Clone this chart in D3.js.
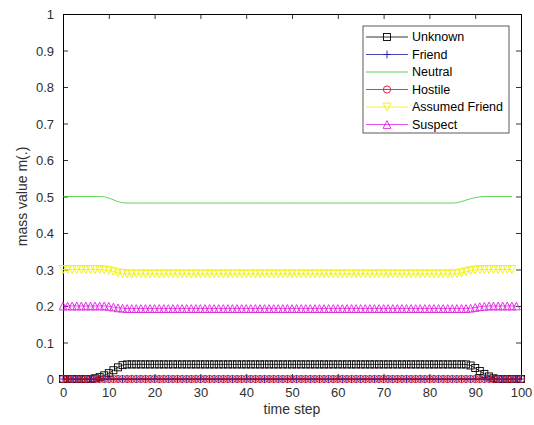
<!DOCTYPE html>
<html><head><meta charset="utf-8">
<script src="https://cdn.jsdelivr.net/npm/d3@7"></script>
<style>
html,body{margin:0;padding:0;background:#fff;}
svg{display:block;font-family:"Liberation Sans",Arial,sans-serif;}
</style></head>
<body><svg id="c" width="534" height="425"></svg>
<script>
const timeSteps = d3.range(0, 101);
const xTicks = [0,10,20,30,40,50,60,70,80,90,100];
const yTicks = [0,0.1,0.2,0.3,0.4,0.5,0.6,0.7,0.8,0.9,1];
const seriesNames = ["Unknown","Friend","Neutral","Hostile","Assumed Friend","Suspect"];

const unknown = [0,0,0,0,0,0,0,0.002,0.005,0.010,0.016,0.024,0.032,0.038,
0.040,0.040,0.040,0.040,0.040,0.040,0.040,0.040,0.040,0.040,0.040,0.040,0.040,0.040,0.040,0.040,
0.040,0.040,0.040,0.040,0.040,0.040,0.040,0.040,0.040,0.040,0.040,0.040,0.040,0.040,0.040,0.040,
0.040,0.040,0.040,0.040,0.040,0.040,0.040,0.040,0.040,0.040,0.040,0.040,0.040,0.040,0.040,0.040,
0.040,0.040,0.040,0.040,0.040,0.040,0.040,0.040,0.040,0.040,0.040,0.040,0.040,0.040,0.040,0.040,
0.040,0.040,0.040,0.040,0.040,0.040,0.040,0.040,0.040,0.040,0.040,0.037,0.030,0.022,0.014,0.007,0.002,
0,0,0,0,0,0];
const friend = [0,0,0,0,0,0,0,0,0,0,0,0,0,0,0,0,0,0,0,0,0,0,0,0,0,0,0,0,0,0,0,0,0,0,0,0,0,0,0,0,0,0,0,0,0,0,0,0,0,0,
0,0,0,0,0,0,0,0,0,0,0,0,0,0,0,0,0,0,0,0,0,0,0,0,0,0,0,0,0,0,0,0,0,0,0,0,0,0,0,0,0,0,0,0,0,0,0,0,0,0,0];
const neutral = [0.500,0.500,0.500,0.500,0.500,0.500,0.500,0.500,0.500,0.499,0.496,0.491,0.486,0.483,
0.482,0.482,0.482,0.482,0.482,0.482,0.482,0.482,0.482,0.482,0.482,0.482,0.482,0.482,0.482,0.482,
0.482,0.482,0.482,0.482,0.482,0.482,0.482,0.482,0.482,0.482,0.482,0.482,0.482,0.482,0.482,0.482,
0.482,0.482,0.482,0.482,0.482,0.482,0.482,0.482,0.482,0.482,0.482,0.482,0.482,0.482,0.482,0.482,
0.482,0.482,0.482,0.482,0.482,0.482,0.482,0.482,0.482,0.482,0.482,0.482,0.482,0.482,0.482,0.482,
0.482,0.482,0.482,0.482,0.482,0.482,0.482,0.482,0.483,0.486,0.490,0.494,0.497,0.499,
0.500,0.500,0.500,0.500,0.500,0.500,0.500];
const hostile = [0,0,0,0,0,0,0,0,0,0,0,0,0,0,0,0,0,0,0,0,0,0,0,0,0,0,0,0,0,0,0,0,0,0,0,0,0,0,0,0,0,0,0,0,0,0,0,0,0,0,
0,0,0,0,0,0,0,0,0,0,0,0,0,0,0,0,0,0,0,0,0,0,0,0,0,0,0,0,0,0,0,0,0,0,0,0,0,0,0,0,0,0,0,0,0,0,0,0,0,0,0];
const assumedFriend = [0.300,0.300,0.300,0.300,0.300,0.300,0.300,0.300,0.300,0.299,0.297,0.294,0.291,0.289,
0.288,0.288,0.288,0.288,0.288,0.288,0.288,0.288,0.288,0.288,0.288,0.288,0.288,0.288,0.288,0.288,
0.288,0.288,0.288,0.288,0.288,0.288,0.288,0.288,0.288,0.288,0.288,0.288,0.288,0.288,0.288,0.288,
0.288,0.288,0.288,0.288,0.288,0.288,0.288,0.288,0.288,0.288,0.288,0.288,0.288,0.288,0.288,0.288,
0.288,0.288,0.288,0.288,0.288,0.288,0.288,0.288,0.288,0.288,0.288,0.288,0.288,0.288,0.288,0.288,
0.288,0.288,0.288,0.288,0.288,0.288,0.288,0.288,0.289,0.291,0.294,0.297,0.299,0.300,
0.300,0.300,0.300,0.300,0.300,0.300,0.300];
const suspect = [0.200,0.200,0.200,0.200,0.200,0.200,0.200,0.200,0.200,0.200,0.199,0.197,0.195,0.194,
0.193,0.193,0.193,0.193,0.193,0.193,0.193,0.193,0.193,0.193,0.193,0.193,0.193,0.193,0.193,0.193,
0.193,0.193,0.193,0.193,0.193,0.193,0.193,0.193,0.193,0.193,0.193,0.193,0.193,0.193,0.193,0.193,
0.193,0.193,0.193,0.193,0.193,0.193,0.193,0.193,0.193,0.193,0.193,0.193,0.193,0.193,0.193,0.193,
0.193,0.193,0.193,0.193,0.193,0.193,0.193,0.193,0.193,0.193,0.193,0.193,0.193,0.193,0.193,0.193,
0.193,0.193,0.193,0.193,0.193,0.193,0.193,0.193,0.193,0.193,0.193,0.194,0.196,0.198,0.199,0.200,
0.200,0.200,0.200,0.200,0.200,0.200];

const seriesValues = [unknown, friend, neutral, hostile, assumedFriend, suspect];
const colors = ["#000000","#1a1aa8","#33cc33","#cc1030","#f0f000","#e020e0"];
const markers = ["square","plus","none","circle","triDown","triUp"];

const svg = d3.select("#c");
const m = {l:63, r:521, t:14, b:379};
const x = d3.scaleLinear().domain([0,100]).range([m.l, m.r]);
const y = d3.scaleLinear().domain([0,1]).range([m.b, m.t]);

// axes
const axCol = "#303030";
const gx = svg.append("g").attr("transform",`translate(0,${m.b})`)
  .call(d3.axisBottom(x).tickValues(xTicks).tickSizeInner(-5).tickSizeOuter(0).tickPadding(9).tickFormat(d3.format("d")));
const gy = svg.append("g").attr("transform",`translate(${m.l},0)`)
  .call(d3.axisLeft(y).tickValues(yTicks).tickSizeInner(-5).tickSizeOuter(0).tickPadding(9).tickFormat(d=>d===0?"0":d===1?"1":d3.format(".1f")(d)));
const gx2 = svg.append("g").attr("transform",`translate(0,${m.t})`)
  .call(d3.axisTop(x).tickValues(xTicks).tickSizeInner(-5).tickSizeOuter(0).tickFormat(""));
const gy2 = svg.append("g").attr("transform",`translate(${m.r},0)`)
  .call(d3.axisRight(y).tickValues(yTicks).tickSizeInner(-5).tickSizeOuter(0).tickFormat(""));
[gx,gy,gx2,gy2].forEach(g=>{
  g.selectAll(".domain").attr("stroke","#000").attr("stroke-width",1);
  g.selectAll(".tick line").attr("stroke","#000").attr("stroke-width",0.8);
  g.selectAll("text").attr("fill",axCol).attr("font-size",13).attr("font-family","Liberation Sans, Arial, sans-serif");
});
gy.selectAll("text").attr("dy","0.35em");

svg.append("text").attr("x",(m.l+m.r)/2).attr("y",414).attr("text-anchor","middle")
  .attr("font-size",14).attr("fill",axCol).text("time step");
svg.append("text").attr("transform",`translate(27,${(m.t+m.b)/2}) rotate(-90)`).attr("text-anchor","middle")
  .attr("font-size",14).attr("fill",axCol).text("mass value m(.)");

// marker drawing
function drawMarker(g, type, cx, cy, col){
  const s = 3.9;
  const sw = 0.9;
  if(type==="square") g.append("rect").attr("x",cx-s+0.4).attr("y",cy-s+0.4).attr("width",2*s-0.8).attr("height",2*s-0.8).attr("fill","none").attr("stroke",col).attr("stroke-width",sw);
  else if(type==="plus") g.append("path").attr("d",`M${cx-s},${cy}H${cx+s}M${cx},${cy-s}V${cy+s}`).attr("stroke",col).attr("stroke-width",sw).attr("fill","none");
  else if(type==="circle") g.append("circle").attr("cx",cx).attr("cy",cy).attr("r",s-0.3).attr("fill","none").attr("stroke",col).attr("stroke-width",sw);
  else if(type==="triDown") g.append("path").attr("d",`M${cx-s},${cy-s}L${cx+s},${cy-s}L${cx},${cy+s}Z`).attr("fill","none").attr("stroke",col).attr("stroke-width",sw);
  else if(type==="triUp") g.append("path").attr("d",`M${cx-s},${cy+s}L${cx+s},${cy+s}L${cx},${cy-s}Z`).attr("fill","none").attr("stroke",col).attr("stroke-width",sw);
}

const line = d3.line().x((d,i)=>x(timeSteps[i])).y(d=>y(d));
const plot = svg.append("g");
seriesValues.forEach((vals,k)=>{
  const g = plot.append("g");
  g.append("path").attr("d",line(vals)).attr("fill","none").attr("stroke",colors[k]).attr("stroke-width",0.8);
  if(markers[k]!=="none") vals.forEach((v,i)=>drawMarker(g, markers[k], x(timeSteps[i]), y(v), colors[k]));
});

// legend
const lg = svg.append("g");
lg.append("rect").attr("x",363).attr("y",26).attr("width",146).attr("height",107).attr("fill","#fff").attr("stroke","#333").attr("stroke-width",0.8);
seriesNames.forEach((n,k)=>{
  const ly = 37 + k*17.5;
  lg.append("line").attr("x1",366).attr("x2",408).attr("y1",ly).attr("y2",ly).attr("stroke",colors[k]).attr("stroke-width",0.8);
  if(markers[k]!=="none") drawMarker(lg, markers[k], 387, ly, colors[k]);
  lg.append("text").attr("x",412).attr("y",ly).attr("dy","0.35em").attr("font-size",12.5).attr("fill","#000").text(n);
});
</script></body></html>
